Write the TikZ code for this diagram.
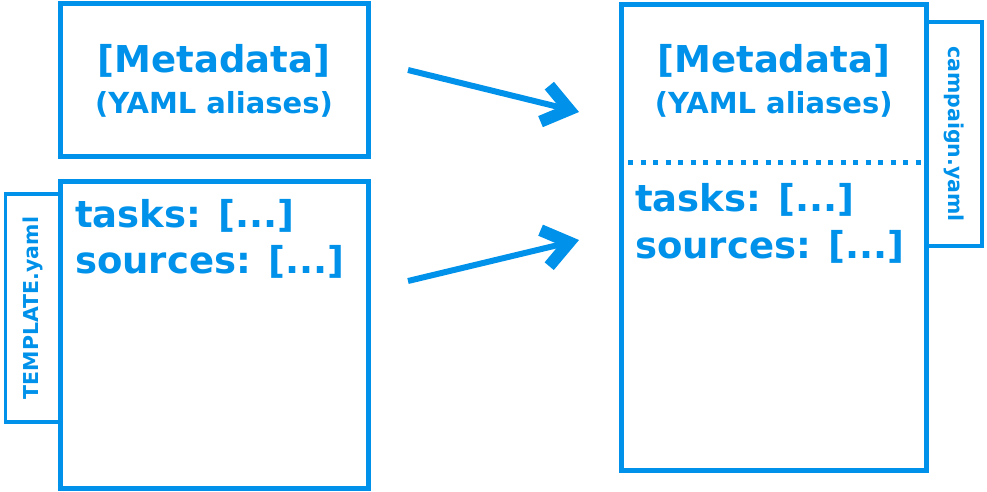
\documentclass[tikz,border=0pt]{standalone}
\usepackage{fontspec}
\setmainfont{DejaVu Sans}
\usetikzlibrary{arrows.meta}
\definecolor{yamlblue}{RGB}{0,146,234}

\begin{document}
\begin{tikzpicture}[x=1pt,y=-1pt,
    bigtext/.style={font=\bfseries\fontsize{37}{44}\selectfont},
    subtext/.style={font=\bfseries\fontsize{29}{35}\selectfont},
    tabtext/.style={font=\bfseries\fontsize{20.5}{24}\selectfont}]
    \useasboundingbox (0,0) rectangle (987,491);

    \begin{scope}[every node/.style={draw=yamlblue,line width=3.5pt,fill=white,inner sep=0pt,text=yamlblue,tabtext}]
      \node[rotate=90,minimum width=228pt,minimum height=54.5pt] (tpltab) at (32.75,308) {TEMPLATE.yaml};
      \node[rotate=-90,minimum width=224pt,minimum height=55.5pt] (cmptab) at (954.25,134) {campaign.yaml};
    \end{scope}

    \begin{scope}[every node/.style={draw=yamlblue,line width=5pt,fill=white,inner sep=0pt}]
      \node[minimum width=308pt,minimum height=153pt] (tplmeta) at (214,79.5) {};
      \node[minimum width=308pt,minimum height=307pt] (tplbody) at (214,334.5) {};
      \node[minimum width=305.5pt,minimum height=466pt] (cmpbody) at (773.75,237) {};
    \end{scope}

    \coordinate (divl) at (621,162);
    \coordinate (divr) at (926,162);
    \draw[yamlblue,line width=5pt,dash pattern=on 5pt off 7.5pt,dash phase=5.5pt] (divl) -- (divr);

    \begin{scope}[every node/.style={text=yamlblue,inner sep=0pt}]
      \node[anchor=base,bigtext] (tplhead) at (214,72) {[Metadata]};
      \node[anchor=base,subtext] (tplalias) at (214,113) {(YAML aliases)};
      \node[anchor=base west,bigtext] (tpltasks) at (75,227) {tasks: [...]};
      \node[anchor=base west,bigtext] (tplsrc) at (75,273) {sources: [...]};

      \node[anchor=base,bigtext] (cmphead) at (773.75,72) {[Metadata]};
      \node[anchor=base,subtext] (cmpalias) at (773.75,113) {(YAML aliases)};
      \node[anchor=base west,bigtext] (cmptasks) at (635,211) {tasks: [...]};
      \node[anchor=base west,bigtext] (cmpsrc) at (635,258) {sources: [...]};
    \end{scope}

    \coordinate (metaout) at (408,70);
    \coordinate (metain) at (579,112);
    \coordinate (bodyout) at (408,281);
    \coordinate (bodyin) at (579,240);

    \begin{scope}[every path/.style={draw=yamlblue,line width=6pt},
        >={Straight Barb[length=25pt,width=37pt,line width=12pt]}]
      \path [->] (metaout) -- (metain);
      \path [->] (bodyout) -- (bodyin);
    \end{scope}
  \end{tikzpicture}
\end{document}
